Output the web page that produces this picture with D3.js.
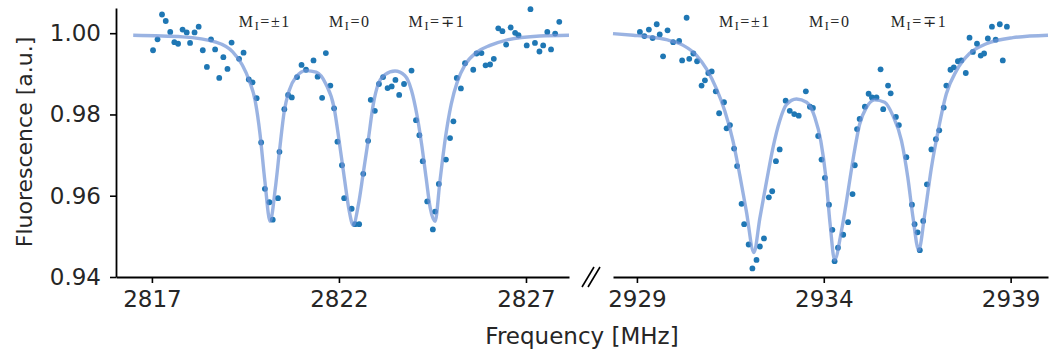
<!DOCTYPE html>
<html>
<head>
<meta charset="utf-8">
<script src="https://cdn.jsdelivr.net/npm/d3@7"></script>
<style>
  body { margin: 0; background: #fff; }
</style>
</head>
<body>
<div id="chart"></div>
<script>

// tick values
var leftTicks = [2817, 2822, 2827],
    rightTicks = [2929, 2934, 2939],
    yTicks = [0.94, 0.96, 0.98, 1.00];

// hyperfine line labels and where they sit (MHz)
var peakLabels = ["±1", "0", "∓1"];
var leftLabelPos = [2820.02, 2822.29, 2824.62],
    rightLabelPos = [2931.89, 2934.16, 2936.55];

// measured points [MHz, fluorescence]
var leftData = [
  [2817.03, 0.9958], [2817.15, 0.9985], [2817.27, 1.0046], [2817.37, 1.0030], [2817.49, 1.0003],
  [2817.60, 0.9978], [2817.70, 0.9974], [2817.82, 1.0009], [2817.93, 1.0002], [2818.02, 0.9976],
  [2818.14, 1.0002], [2818.25, 1.0016], [2818.36, 0.9958], [2818.47, 0.9917], [2818.58, 0.9985],
  [2818.69, 0.9960], [2818.80, 0.9890], [2818.91, 0.9941], [2819.02, 0.9912], [2819.13, 0.9977],
  [2819.33, 0.9937], [2819.45, 0.9952], [2819.59, 0.9886], [2819.69, 0.9879], [2819.80, 0.9840],
  [2819.92, 0.9731], [2820.02, 0.9617], [2820.14, 0.9584], [2820.23, 0.9541], [2820.37, 0.9594],
  [2820.41, 0.9708], [2820.54, 0.9813], [2820.64, 0.9848], [2820.74, 0.9842], [2820.88, 0.9892],
  [2821.00, 0.9922], [2821.12, 0.9910], [2821.32, 0.9933], [2821.43, 0.9893], [2821.55, 0.9841],
  [2821.65, 0.9951], [2821.77, 0.9871], [2821.87, 0.9815], [2821.96, 0.9733], [2822.08, 0.9675],
  [2822.14, 0.9594], [2822.34, 0.9568], [2822.43, 0.9530], [2822.54, 0.9530], [2822.65, 0.9654],
  [2822.78, 0.9735], [2822.85, 0.9836], [2822.96, 0.9809], [2823.07, 0.9875], [2823.18, 0.9892],
  [2823.30, 0.9865], [2823.41, 0.9869], [2823.51, 0.9885], [2823.61, 0.9848], [2823.74, 0.9875],
  [2823.94, 0.9908], [2824.06, 0.9786], [2824.15, 0.9749], [2824.24, 0.9685], [2824.36, 0.9586],
  [2824.51, 0.9517], [2824.57, 0.9561], [2824.67, 0.9629], [2824.86, 0.9689], [2824.97, 0.9742],
  [2825.06, 0.9783], [2825.15, 0.9890], [2825.26, 0.9864], [2825.37, 0.9926], [2825.59, 0.9910],
  [2825.68, 0.9950], [2825.81, 0.9951], [2825.92, 0.9921], [2826.04, 0.9923], [2826.14, 0.9937],
  [2826.26, 1.0012], [2826.37, 1.0005], [2826.47, 0.9972], [2826.59, 1.0014], [2826.71, 1.0001],
  [2826.80, 0.9995], [2827.02, 0.9970], [2827.12, 1.0059], [2827.24, 0.9976], [2827.36, 0.9955],
  [2827.46, 0.9970], [2827.57, 1.0003], [2827.67, 0.9960], [2827.78, 0.9999], [2827.89, 1.0028]
];

var rightData = [
  [2929.08, 1.0003], [2929.20, 0.9993], [2929.32, 1.0009], [2929.42, 0.9988], [2929.53, 1.0022],
  [2929.61, 0.9997], [2929.70, 0.9943], [2929.82, 1.0007], [2929.97, 0.9978], [2930.13, 0.9981],
  [2930.33, 1.0038], [2930.21, 0.9933], [2930.40, 0.9937], [2930.51, 0.9950], [2930.61, 0.9931],
  [2930.73, 0.9871], [2930.82, 0.9884], [2930.91, 0.9902], [2931.00, 0.9906], [2931.11, 0.9857],
  [2931.20, 0.9803], [2931.33, 0.9830], [2931.40, 0.9766], [2931.49, 0.9774], [2931.60, 0.9716],
  [2931.68, 0.9673], [2931.80, 0.9580], [2931.87, 0.9530], [2931.99, 0.9480], [2932.09, 0.9421],
  [2932.20, 0.9442], [2932.29, 0.9475], [2932.40, 0.9495], [2932.53, 0.9596], [2932.62, 0.9611],
  [2932.72, 0.9685], [2932.82, 0.9714], [2932.98, 0.9834], [2933.09, 0.9809], [2933.21, 0.9801],
  [2933.33, 0.9797], [2933.52, 0.9857], [2933.63, 0.9819], [2933.71, 0.9816], [2933.85, 0.9747],
  [2933.94, 0.9689], [2934.03, 0.9644], [2934.14, 0.9578], [2934.23, 0.9516], [2934.29, 0.9439],
  [2934.38, 0.9472], [2934.52, 0.9504], [2934.65, 0.9535], [2934.77, 0.9604], [2934.83, 0.9675],
  [2934.89, 0.9764], [2934.96, 0.9789], [2935.10, 0.9819], [2935.20, 0.9851], [2935.29, 0.9842],
  [2935.41, 0.9842], [2935.52, 0.9911], [2935.59, 0.9813], [2935.72, 0.9871], [2935.79, 0.9852],
  [2935.93, 0.9794], [2936.01, 0.9774], [2936.21, 0.9695], [2936.36, 0.9578], [2936.43, 0.9530],
  [2936.51, 0.9510], [2936.57, 0.9466], [2936.66, 0.9538], [2936.76, 0.9628], [2936.88, 0.9714],
  [2937.00, 0.9739], [2937.09, 0.9761], [2937.21, 0.9817], [2937.28, 0.9871], [2937.39, 0.9910],
  [2937.48, 0.9916], [2937.59, 0.9931], [2937.68, 0.9933], [2937.80, 0.9902], [2937.90, 0.9989],
  [2937.99, 0.9954], [2938.10, 0.9974], [2938.20, 0.9945], [2938.29, 0.9950], [2938.39, 0.9987],
  [2938.50, 1.0016], [2938.60, 0.9984], [2938.71, 1.0022], [2938.79, 0.9933], [2938.90, 1.0016]
];

// fitted curve
var leftFit = [
  [2816.50, 0.9995], [2817.82, 0.9991], [2818.71, 0.9978], [2819.16, 0.9954], [2819.42, 0.9921],
  [2819.60, 0.9884], [2819.76, 0.9834], [2819.89, 0.9752], [2820.02, 0.9636], [2820.16, 0.9537],
  [2820.30, 0.9619], [2820.41, 0.9710], [2820.54, 0.9809], [2820.67, 0.9859], [2820.85, 0.9892],
  [2821.12, 0.9908], [2821.39, 0.9904], [2821.65, 0.9875], [2821.87, 0.9817], [2822.02, 0.9725],
  [2822.15, 0.9640], [2822.27, 0.9565], [2822.38, 0.9528], [2822.52, 0.9578], [2822.65, 0.9656],
  [2822.78, 0.9735], [2822.92, 0.9826], [2823.05, 0.9875], [2823.23, 0.9898], [2823.50, 0.9907],
  [2823.76, 0.9896], [2823.94, 0.9859], [2824.08, 0.9801], [2824.21, 0.9727], [2824.33, 0.9644],
  [2824.44, 0.9570], [2824.57, 0.9537], [2824.70, 0.9636], [2824.85, 0.9745], [2825.00, 0.9825],
  [2825.17, 0.9882], [2825.37, 0.9922], [2825.68, 0.9953], [2826.04, 0.9970], [2826.48, 0.9983],
  [2827.37, 0.9993], [2828.15, 0.9995]
];

var rightFit = [
  [2928.36, 0.9999], [2928.90, 0.9995], [2929.35, 0.9991], [2929.79, 0.9984], [2930.24, 0.9970],
  [2930.60, 0.9945], [2930.86, 0.9912], [2931.13, 0.9863], [2931.35, 0.9809], [2931.57, 0.9735],
  [2931.75, 0.9652], [2931.93, 0.9561], [2932.13, 0.9460], [2932.29, 0.9545], [2932.47, 0.9636],
  [2932.64, 0.9718], [2932.82, 0.9784], [2933.00, 0.9824], [2933.27, 0.9838], [2933.54, 0.9830],
  [2933.76, 0.9793], [2933.92, 0.9735], [2934.05, 0.9650], [2934.17, 0.9530], [2934.29, 0.9442],
  [2934.47, 0.9512], [2934.65, 0.9611], [2934.79, 0.9693], [2934.96, 0.9776], [2935.14, 0.9817],
  [2935.36, 0.9836], [2935.63, 0.9830], [2935.85, 0.9797], [2936.08, 0.9735], [2936.25, 0.9644],
  [2936.39, 0.9545], [2936.54, 0.9466], [2936.70, 0.9553], [2936.88, 0.9669], [2937.06, 0.9760],
  [2937.28, 0.9851], [2937.55, 0.9908], [2937.90, 0.9950], [2938.35, 0.9974], [2939.06, 0.9989],
  [2940.00, 0.9995]
];

var width = 1052, height = 358;

var svg = d3.select("#chart").append("svg")
    .attr("width", width)
    .attr("height", height);

var y = d3.scaleLinear().domain([0.94, 1.0062]).range([277, 8]);
var xL = d3.scaleLinear().domain([2816.04, 2828.15]).range([116, 569]);
var xR = d3.scaleLinear().domain([2928.36, 2940.0]).range([613, 1048]);

var tickFont = "'DejaVu Sans', sans-serif",
    textCol = "#262626";

function drawPanel(x, data, fit, ticks, labelPos, withY) {
  var g = svg.append("g");

  g.append("g")
      .selectAll("circle")
      .data(data)
      .enter().append("circle")
        .attr("cx", function(d) { return x(d[0]); })
        .attr("cy", function(d) { return y(d[1]); })
        .attr("r", 2.9)
        .attr("fill", "#1f77b4");

  var line = d3.line()
      .x(function(d) { return x(d[0]); })
      .y(function(d) { return y(d[1]); })
      .curve(d3.curveMonotoneX);

  g.append("path")
      .datum(fit)
      .attr("d", line)
      .attr("fill", "none")
      .attr("stroke", "#6f93d6")
      .attr("stroke-opacity", 0.7)
      .attr("stroke-width", 3.4);

  var xa = g.append("g")
      .attr("transform", "translate(0," + y(0.94) + ")")
      .call(d3.axisBottom(x).tickValues(ticks).tickSize(6).tickSizeOuter(0).tickPadding(8).tickFormat(d3.format("d")));
  styleAxis(xa);

  if (withY) {
    var ya = g.append("g")
        .attr("transform", "translate(" + x.range()[0] + ",0)")
        .call(d3.axisLeft(y).tickValues(yTicks).tickSize(6).tickSizeOuter(0).tickPadding(9).tickFormat(d3.format(".2f")));
    styleAxis(ya);
  }

  // M_I labels
  labelPos.forEach(function(p, i) {
    var t = g.append("text")
        .attr("x", x(p))
        .attr("y", 27)
        .attr("text-anchor", "middle")
        .attr("font-family", "'Liberation Serif', 'DejaVu Serif', serif")
        .attr("font-size", "16px")
        .attr("letter-spacing", "1.6px")
        .attr("fill", textCol);
    t.append("tspan").text("M");
    t.append("tspan").attr("font-size", "12px").attr("dy", 3).text("I");
    t.append("tspan").attr("dy", -3).text("=" + peakLabels[i]);
  });
}

function styleAxis(a) {
  a.select(".domain").attr("stroke", "#000").attr("stroke-width", 1.8);
  a.selectAll(".tick line").attr("stroke", "#000").attr("stroke-width", 1.6);
  a.selectAll(".tick text")
      .attr("fill", textCol)
      .style("font-family", tickFont)
      .style("font-size", "23px");
}

drawPanel(xL, leftData, leftFit, leftTicks, leftLabelPos, true);
drawPanel(xR, rightData, rightFit, rightTicks, rightLabelPos, false);

// broken axis marks
var bx = (xL.range()[1] + xR.range()[0]) / 2;
[-3, 3].forEach(function(o) {
  svg.append("line")
      .attr("x1", bx + o - 6).attr("y1", y(0.94) + 10)
      .attr("x2", bx + o + 6).attr("y2", y(0.94) - 10)
      .attr("stroke", "#000")
      .attr("stroke-width", 1.6);
});

svg.append("text")
    .attr("x", (xL.range()[0] + xR.range()[1]) / 2)
    .attr("y", 344)
    .attr("text-anchor", "middle")
    .style("font-family", tickFont)
    .style("font-size", "23px")
    .attr("fill", textCol)
    .text("Frequency [MHz]");

svg.append("text")
    .attr("transform", "rotate(-90)")
    .attr("x", -142)
    .attr("y", 32)
    .attr("text-anchor", "middle")
    .style("font-family", tickFont)
    .style("font-size", "22px")
    .attr("fill", textCol)
    .text("Fluorescence [a.u.]");

</script>
</body>
</html>
